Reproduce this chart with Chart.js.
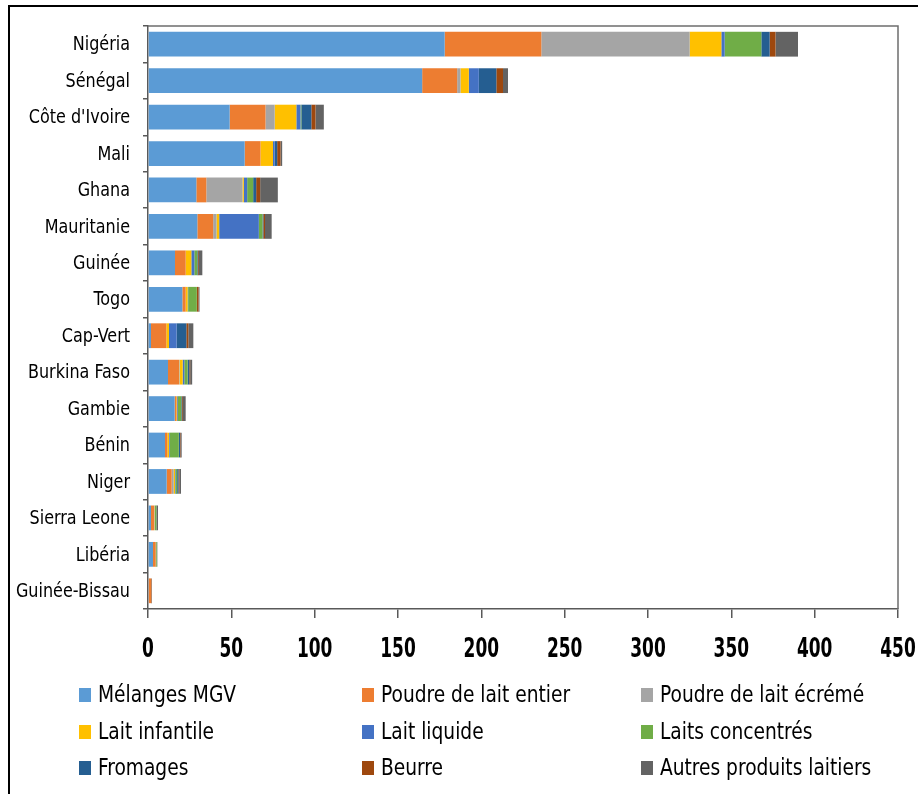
<!DOCTYPE html>
<html>
<head>
<meta charset="utf-8">
<script src="https://cdn.jsdelivr.net/npm/chart.js@4.4.0/dist/chart.umd.min.js"></script>
<style>
  html, body { margin: 0; padding: 0; background: #fff; }
  canvas { display: block; }
</style>
</head>
<body>
<canvas id="dairyChart" width="918" height="794"></canvas>
<script>
// Importations de produits laitiers par pays
const countries = ["Nigéria", "Sénégal", "Côte d'Ivoire", "Mali", "Ghana", "Mauritanie", "Guinée", "Togo",
  "Cap-Vert", "Burkina Faso", "Gambie", "Bénin", "Niger", "Sierra Leone", "Libéria", "Guinée-Bissau"];

const seriesNames = ["Mélanges MGV", "Poudre de lait entier", "Poudre de lait écrémé", "Lait infantile",
  "Lait liquide", "Laits concentrés", "Fromages", "Beurre", "Autres produits laitiers"];
const seriesColors = ["#5B9BD5", "#ED7D31", "#A5A5A5", "#FFC000", "#4472C4", "#70AD47", "#255E91", "#9E480E", "#636363"];

const melangesMGV     = [178, 164.5, 49, 58, 29, 29.6, 16.2, 20.6, 1.8, 12, 16, 10.2, 11.2, 1.8, 3, 0.5];
const poudreEntier    = [58, 21, 21.5, 9.5, 6, 9.5, 6.4, 2, 9.2, 6.6, 1, 1.4, 3, 1.8, 1.6, 1.3];
const poudreEcreme    = [89, 2, 5.5, 0, 21.7, 2, 0, 0, 0, 0.3, 0, 0, 1.2, 0.3, 0, 0];
const laitInfantile   = [19, 5, 13, 7.5, 0.8, 1.6, 3.4, 1.2, 1.6, 1.9, 0.5, 1, 0.8, 0.3, 0, 0];
const laitLiquide     = [2, 6, 2.5, 1, 2, 23.8, 1.8, 0.3, 4.6, 1, 0.5, 0.4, 0.3, 0, 0, 0];
const laitsConcentres = [22, 0, 0.5, 0, 3.6, 2.2, 1.8, 5.2, 0, 2, 2, 5.5, 1, 0.8, 0.6, 0];
const fromages        = [5, 10.5, 6, 1.5, 1.8, 0.5, 0.5, 0, 5.8, 1, 0.5, 0.8, 0.8, 0.2, 0, 0];
const beurre          = [3.5, 4, 2.5, 2, 2.4, 1, 0.5, 1, 1.2, 0.5, 0.5, 0.4, 0.5, 0.2, 0, 0.3];
const autresProduits  = [13.5, 3, 5, 1, 10.6, 4, 2, 0.6, 3, 1.2, 1.6, 0.5, 1, 0.6, 0.4, 0.2];

const xTicks = [0, 50, 100, 150, 200, 250, 300, 350, 400, 450];

const seriesValues = [melangesMGV, poudreEntier, poudreEcreme, laitInfantile, laitLiquide,
  laitsConcentres, fromages, beurre, autresProduits];

const FONT = "'DejaVu Sans Condensed', 'Liberation Sans Narrow', sans-serif";

// texte resserré horizontalement (police étroite)
function narrowText(ctx, text, x, y, sx, align) {
  ctx.save();
  ctx.translate(x, y);
  ctx.scale(sx, 1);
  ctx.textAlign = align;
  ctx.fillText(text, 0, 0);
  ctx.restore();
}

// cadre noir, bordure de la zone de tracé, étiquettes des axes et légende 3x3
const framePlugin = {
  id: "frame",
  beforeDraw(chart) {
    const ctx = chart.ctx;
    ctx.save();
    ctx.fillStyle = "#fff";
    ctx.fillRect(0, 0, chart.width, chart.height);
    ctx.strokeStyle = "#000";
    ctx.lineWidth = 2;
    ctx.beginPath();
    ctx.moveTo(9, chart.height + 5);
    ctx.lineTo(9, 6);
    ctx.lineTo(chart.width + 5, 6);
    ctx.stroke();
    ctx.restore();
  },
  afterDraw(chart) {
    const ctx = chart.ctx;
    const area = chart.chartArea;
    const xs = chart.scales.x;
    const ys = chart.scales.y;
    ctx.save();
    ctx.strokeStyle = "#6d6d6d";
    ctx.lineWidth = 1.5;
    ctx.beginPath();
    ctx.moveTo(area.left, area.top);
    ctx.lineTo(area.right, area.top);
    ctx.lineTo(area.right, area.bottom);
    ctx.stroke();

    ctx.fillStyle = "#000";
    ctx.textBaseline = "middle";
    ctx.font = "20px " + FONT;
    countries.forEach(function (name, i) {
      narrowText(ctx, name, 130, ys.getPixelForTick(i) + 1, 0.89, "right");
    });

    ctx.textBaseline = "alphabetic";
    ctx.font = "bold 27px " + FONT;
    xTicks.forEach(function (v) {
      narrowText(ctx, String(v), xs.getPixelForValue(v), 657, 0.7, "center");
    });

    const colX = [79, 362, 641];
    const rowY = [695, 732, 768];
    ctx.font = "23px " + FONT;
    ctx.textBaseline = "middle";
    seriesNames.forEach(function (name, i) {
      const x = colX[i % 3];
      const y = rowY[Math.floor(i / 3)];
      ctx.fillStyle = seriesColors[i];
      ctx.fillRect(x, y - 7, 12, 14);
      ctx.fillStyle = "#000";
      narrowText(ctx, name, x + 19, y + 1, 0.9, "left");
    });
    ctx.restore();
  }
};

const ctx = document.getElementById("dairyChart").getContext("2d");

new Chart(ctx, {
  type: "bar",
  data: {
    labels: countries,
    datasets: seriesNames.map(function (name, i) {
      return {
        label: name,
        data: seriesValues[i],
        backgroundColor: seriesColors[i],
        borderWidth: 0,
        barPercentage: 0.68,
        categoryPercentage: 1
      };
    })
  },
  options: {
    indexAxis: "y",
    responsive: false,
    animation: false,
    layout: { padding: { left: 0, top: 26, right: 20, bottom: 125 } },
    plugins: {
      legend: { display: false },
      tooltip: { enabled: false }
    },
    scales: {
      x: {
        stacked: true,
        min: 0,
        max: 450,
        afterBuildTicks(scale) {
          scale.ticks = xTicks.map(function (v) { return { value: v }; });
        },
        afterFit(scale) {
          scale.height = 60;
          scale.paddingLeft = 0;
          scale.paddingRight = 0;
        },
        grid: { drawOnChartArea: false, tickLength: 9, color: "#595959", lineWidth: 1.5 },
        border: { color: "#595959", width: 1.5 },
        ticks: { color: "rgba(0,0,0,0)", maxRotation: 0, font: { family: FONT, size: 20 } }
      },
      y: {
        stacked: true,
        afterFit(scale) {
          scale.width = 148;
          scale.paddingTop = 0;
          scale.paddingBottom = 0;
        },
        grid: { drawOnChartArea: false, tickLength: 5, color: "#595959", lineWidth: 1.5, offset: true },
        border: { color: "#595959", width: 1.5 },
        ticks: { color: "rgba(0,0,0,0)", autoSkip: false, font: { family: FONT, size: 20 } }
      }
    }
  },
  plugins: [framePlugin]
});
</script>
</body>
</html>
